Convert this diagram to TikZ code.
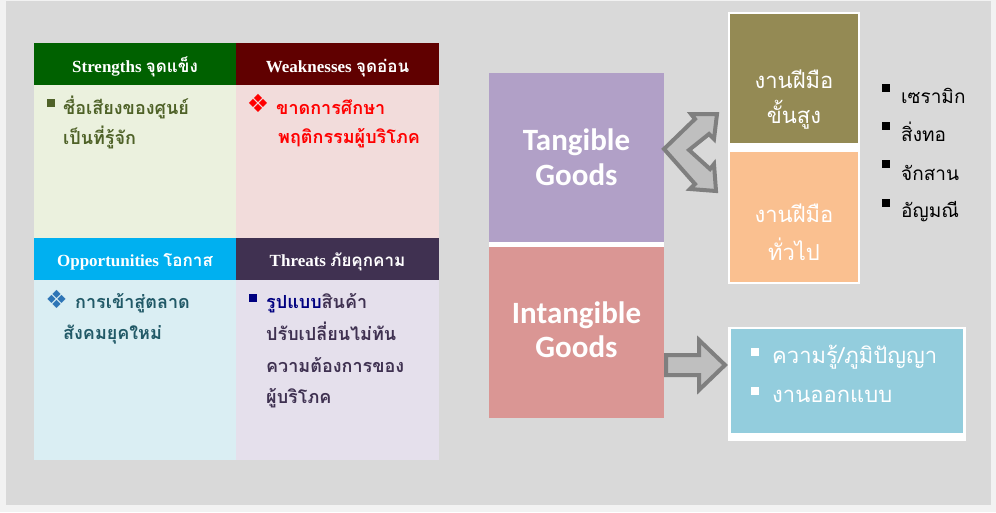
\documentclass[tikz,border=0pt]{standalone}
\usepackage{fontspec}
\setmainfont{Liberation Serif}
\newfontfamily\thaif[Script=Thai]{Loma}
\newfontfamily\calf{Carlito}
\newfontfamily\dvf{DejaVu Sans}
\definecolor{outerbg}{HTML}{F2F2F2}
\definecolor{bggray}{HTML}{D9D9D9}
\definecolor{sHead}{HTML}{006100}
\definecolor{sBody}{HTML}{EBF1DE}
\definecolor{sText}{HTML}{4F6228}
\definecolor{wHead}{HTML}{600000}
\definecolor{wBody}{HTML}{F2DCDB}
\definecolor{wText}{HTML}{FF0000}
\definecolor{oHead}{HTML}{00B0F0}
\definecolor{oBody}{HTML}{DAEEF3}
\definecolor{oText}{HTML}{215967}
\definecolor{oBul}{HTML}{2E75B6}
\definecolor{tHead}{HTML}{403151}
\definecolor{tBody}{HTML}{E5E0EC}
\definecolor{tText}{HTML}{3F3151}
\definecolor{tNavy}{HTML}{000080}
\definecolor{tang}{HTML}{B1A0C7}
\definecolor{intang}{HTML}{DA9694}
\definecolor{olivebox}{HTML}{948A54}
\definecolor{peachbox}{HTML}{FAC090}
\definecolor{bluebox}{HTML}{93CDDD}
\definecolor{arrFill}{HTML}{BFBFBF}
\definecolor{arrLine}{HTML}{7F7F7F}
\tikzset{
  box/.style={draw=none, inner sep=0pt, outer sep=0pt, anchor=north west},
  hdr/.style={text=white, inner sep=0pt, anchor=base, font=\fontsize{17}{17}\selectfont\bfseries},
  body/.style={inner sep=0pt, anchor=base west, font=\thaif\fontsize{18}{18}\selectfont\bfseries},
  sq/.style={inner sep=0pt, minimum size=8pt},
  dia/.style={inner sep=0pt, font=\dvf\fontsize{25}{25}\selectfont},
  goods/.style={text=white, inner sep=0pt, anchor=base, font=\calf\fontsize{31}{31}\selectfont\bfseries},
  craft/.style={text=white, inner sep=0pt, anchor=base, font=\thaif\fontsize{22}{22}\selectfont},
  item/.style={inner sep=0pt, anchor=base west, font=\thaif\fontsize{19}{19}\selectfont},
  blk/.style={fill=arrFill, draw=arrLine, line width=4pt, line join=miter}
}
\begin{document}
\begin{tikzpicture}[x=1pt,y=-1pt]
\useasboundingbox (0,0) rectangle (996,512);
\fill[outerbg] (0,0) rectangle (996,512);
\fill[bggray] (6,1) rectangle (991,505);
% SWOT grid
\node[box, fill=sHead, minimum width=202pt, minimum height=42pt] (sH) at (34,43) {};
\node[box, fill=wHead, minimum width=203pt, minimum height=42pt] (wH) at (236,43) {};
\node[box, fill=sBody, minimum width=202pt, minimum height=153pt] (sB) at (34,85) {};
\node[box, fill=wBody, minimum width=203pt, minimum height=153pt] (wB) at (236,85) {};
\node[box, fill=oHead, minimum width=202pt, minimum height=42pt] (oH) at (34,238) {};
\node[box, fill=tHead, minimum width=203pt, minimum height=42pt] (tH) at (236,238) {};
\node[box, fill=oBody, minimum width=202pt, minimum height=180pt] (oB) at (34,280) {};
\node[box, fill=tBody, minimum width=203pt, minimum height=180pt] (tB) at (236,280) {};
% headers
\node[hdr] (sHt) at (135,72) {Strengths {\thaif\bfseries จุดแข็ง}};
\node[hdr] (wHt) at (337.5,72) {Weaknesses {\thaif\bfseries จุดอ่อน}};
\node[hdr] (oHt) at (135,266) {Opportunities {\thaif\bfseries โอกาส}};
\node[hdr] (tHt) at (337.5,266) {Threats {\thaif\bfseries ภัยคุกคาม}};
% strengths
\node[sq, fill=sText] (sBul) at (50.5,102.5) {};
\node[body, text=sText] (s1) at (63,114) {ชื่อเสียงของศูนย์};
\node[body, text=sText] (s2) at (63,144) {เป็นที่รู้จัก};
% weaknesses
\node[dia, text=wText] (wBul) at (258,103.5) {❖};
\node[body, text=wText] (w1) at (276,114) {ขาดการศึกษา};
\node[body, text=wText] (w2) at (278,143) {พฤติกรรมผู้บริโภค};
% opportunities
\node[dia, text=oBul] (oBl) at (56.5,299.5) {❖};
\node[body, text=oText] (o1) at (75,308) {การเข้าสู่ตลาด};
\node[body, text=oText] (o2) at (63,339) {สังคมยุคใหม่};
% threats
\node[sq, fill=tNavy] (tBul) at (253,298) {};
\node[body, text=tText] (t1) at (266,308) {{\color{tNavy}รูปแบบ}สินค้า};
\node[body, text=tText] (t2) at (266,340) {ปรับเปลี่ยนไม่ทัน};
\node[body, text=tText] (t3) at (266,372) {ความต้องการของ};
\node[body, text=tText] (t4) at (266,403) {ผู้บริโภค};
% goods boxes
\node[box, fill=tang, minimum width=175pt, minimum height=169pt] (tg) at (489,73) {};
\node[box, fill=white, minimum width=175pt, minimum height=5pt] (gap) at (489,242) {};
\node[box, fill=intang, minimum width=175pt, minimum height=171pt] (ig) at (489,247) {};
\node[goods] (tg1) at (576.5,150) {Tangible};
\node[goods] (tg2) at (576.5,185) {Goods};
\node[goods] (ig1) at (576.5,323) {Intangible};
\node[goods] (ig2) at (576.5,357) {Goods};
% craft boxes
\node[box, fill=white, minimum width=132pt, minimum height=272pt] (cw) at (728,12) {};
\node[box, fill=olivebox, minimum width=128pt, minimum height=129pt] (hc) at (730,14) {};
\node[box, fill=peachbox, minimum width=128pt, minimum height=130pt] (gc) at (730,152) {};
\node[craft] (hc1) at (794,88) {งานฝีมือ};
\node[craft] (hc2) at (794,123) {ขั้นสูง};
\node[craft] (gc1) at (794,222) {งานฝีมือ};
\node[craft] (gc2) at (794,260) {ทั่วไป};
% list
\node[sq, fill=black] (l1b) at (886,87.5) {};
\node[sq, fill=black] (l2b) at (886,126) {};
\node[sq, fill=black] (l3b) at (886,164) {};
\node[sq, fill=black] (l4b) at (886,202.5) {};
\node[item] (l1) at (901,103) {เซรามิก};
\node[item] (l2) at (901,141) {สิ่งทอ};
\node[item] (l3) at (901,180) {จักสาน};
\node[item] (l4) at (901,217) {อัญมณี};
% blue box
\node[box, fill=white, minimum width=238pt, minimum height=114pt] (bw) at (728,327) {};
\node[box, fill=bluebox, minimum width=232pt, minimum height=104pt] (bb) at (731,329) {};
\node[sq, fill=white] (b1b) at (755,351.5) {};
\node[sq, fill=white] (b2b) at (755,391) {};
\node[craft, anchor=base west] (b1) at (772,363) {ความรู้/ภูมิปัญญา};
\node[craft, anchor=base west] (b2) at (772,402) {งานออกแบบ};
% block arrows
\draw[blk] (664,149) -- (695,119) -- (691,114) -- (717,114) -- (714,139) -- (709,134)
  -- (689,150) -- (710,169) -- (714,164) -- (716,191) -- (690,189) -- (695,184) -- cycle;
\draw[blk] (666,355) -- (699,355) -- (699,340) -- (725,365) -- (699,390) -- (699,375) -- (666,375) -- cycle;
\end{tikzpicture}
\end{document}
